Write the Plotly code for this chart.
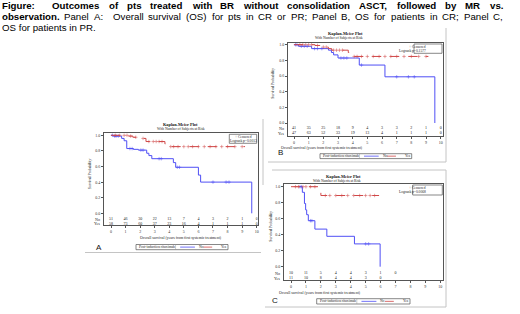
import plotly.graph_objects as go

W, H = 520, 314

# ---------------- data ----------------
years = list(range(11))

# Panel A: CR or PR
A_no_t = [0, 0.15, 0.73, 0.9, 1.08, 1.53, 1.88, 2.45, 2.6, 2.8, 4.28, 4.44, 6.0, 6.15, 9.66]
A_no_s = [1.0, 0.99, 0.96, 0.93, 0.83, 0.82, 0.81, 0.77, 0.74, 0.70, 0.65, 0.59, 0.49, 0.40, 0.0]
A_yes_t = [0, 1.2, 1.5, 2.0, 2.4, 3.7, 4.0, 9.2]
A_yes_s = [1.0, 0.99, 0.975, 0.96, 0.92, 0.89, 0.855, 0.855]
A_no_cens = [0.1, 0.25, 0.35, 0.5, 1.3, 1.45, 2.05, 2.2, 3.3, 3.45, 4.55, 4.7, 7.0, 7.9, 8.1]
A_yes_cens = [0.3, 0.6, 0.9, 1.1, 1.35, 1.7, 2.2, 2.6, 2.9, 3.1, 3.3, 3.5, 4.1, 4.3, 4.6, 5.0,
              5.3, 5.6, 6.0, 6.4, 6.8, 7.2, 7.6, 8.0, 8.5, 9.0]
A_risk_no = [51, 46, 30, 22, 13, 7, 4, 3, 2, 1, 0]
A_risk_yes = [58, 73, 60, 37, 23, 16, 4, 1, 1, 1, 0]
A_p = "Logrank p=0.0013"

# Panel B: CR
B_no_t = [0, 0.3, 1.2, 2.35, 2.55, 2.7, 3.0, 4.45, 6.2, 9.6]
B_no_s = [1.0, 0.98, 0.95, 0.93, 0.90, 0.87, 0.83, 0.74, 0.59, 0.0]
B_yes_t = [0, 1.43, 1.77, 2.34, 2.57, 3.7, 3.93, 9.16]
B_yes_s = [1.0, 0.99, 0.97, 0.95, 0.93, 0.90, 0.85, 0.85]
B_no_cens = [0.1, 0.2, 0.5, 0.7, 0.9, 1.4, 1.6, 1.9, 3.2, 3.4, 3.6, 4.6, 7.0, 7.8, 8.2]
B_yes_cens = [0.4, 0.6, 0.8, 1.0, 1.2, 1.6, 2.0, 2.2, 2.7, 2.9, 3.1, 3.3, 4.1, 4.3, 4.6, 5.0,
              5.4, 5.8, 6.2, 6.6, 7.0, 7.5, 8.0, 8.5, 9.0]
B_risk_no = [41, 35, 25, 18, 9, 4, 3, 3, 2, 1, 0]
B_risk_yes = [47, 63, 52, 33, 19, 13, 4, 1, 1, 1, 0]
B_p = "Logrank p=0.1577"

# Panel C: PR
C_no_t = [0.55, 0.76, 0.9, 0.98, 1.05, 1.16, 1.6, 2.4, 4.25, 5.97]
C_no_s = [1.0, 0.93, 0.79, 0.71, 0.65, 0.575, 0.47, 0.38, 0.285, 0.0]
C_yes_t = [0, 2.0, 5.9]
C_yes_s = [1.0, 0.89, 0.89]
C_no_cens = [0.6, 0.7, 1.3, 1.4, 5.0, 5.2]
C_yes_cens = [0.3, 0.5, 0.8, 1.0, 1.3, 1.6, 2.3, 2.6, 3.0, 3.4, 3.8, 4.2, 4.6, 5.0, 5.3, 5.6]
C_risk_no = [10, 11, 5, 4, 4, 3, 1, 0]
C_risk_yes = [11, 10, 8, 4, 4, 3, 0]
C_p = "Logrank p=0.0068"

# caption words (text, bold, spaces before)
cap_line1 = [("Figure:", 1, 0), ("Outcomes", 1, 2), ("of", 1, 1), ("pts", 1, 1), ("treated", 1, 1),
             ("with", 1, 1), ("BR", 1, 1), ("without", 1, 1), ("consolidation", 1, 1), ("ASCT,", 1, 1),
             ("followed", 1, 1), ("by", 1, 1), ("MR", 1, 1), ("vs.", 1, 1)]
cap_line2 = [("observation.", 1, 0), ("Panel", 0, 1), ("A:", 0, 1), ("Overall", 0, 2), ("survival", 0, 1),
             ("(OS)", 0, 1), ("for", 0, 1), ("pts", 0, 1), ("in", 0, 1), ("CR", 0, 1), ("or", 0, 1),
             ("PR;", 0, 1), ("Panel", 0, 1), ("B,", 0, 1), ("OS", 0, 1), ("for", 0, 1), ("patients", 0, 1),
             ("in", 0, 1), ("CR;", 0, 1), ("Panel", 0, 1), ("C,", 0, 1)]
cap_line3 = "OS for patients in PR."

# ---------------- styling ----------------
BLUE = "#4f4ff5"
RED = "#d04848"
FRAME = "#555555"
GRAY = "#c4c4c4"
SERIF = "Liberation Serif"
SANS = "Liberation Sans"
CAP = 9.7

# Arial/Liberation Sans advance widths (per 1000 em) for justification
REG = dict(zip(" (),.:;", [278, 333, 333, 278, 278, 278, 278]))
REG.update(dict(zip("ABCDEFGHIMNOPRST", [667, 667, 722, 722, 667, 611, 778, 722, 278, 833, 722, 778, 667, 722, 667, 611])))
REG.update(dict(zip("abcdefghijklmnopqrstuvwxyz",
                    [556, 556, 500, 556, 556, 278, 556, 556, 222, 222, 500, 222, 833, 556, 556, 556, 556, 333, 500,
                     278, 556, 500, 722, 500, 500, 500])))
BLD = dict(zip(" (),.:;", [278, 333, 333, 278, 278, 333, 333]))
BLD.update(dict(zip("ABCDEFGHIMNOPRST", [722, 722, 722, 722, 667, 611, 778, 722, 278, 833, 722, 778, 667, 722, 667, 611])))
BLD.update(dict(zip("abcdefghijklmnopqrstuvwxyz",
                    [556, 611, 556, 611, 556, 333, 611, 611, 278, 278, 556, 278, 889, 611, 611, 611, 611, 389, 556,
                     333, 611, 556, 778, 556, 556, 500])))


def text_w(s, bold):
    tab = BLD if bold else REG
    return sum(tab.get(c, 556) for c in s) / 1000.0 * CAP


def step_at(ts, ss, t):
    v = ss[0]
    for ti, si in zip(ts, ss):
        if ti <= t:
            v = si
    return v


def px(x):
    return x / W


def py(y):
    return 1 - y / H


fig = go.Figure()
annotations = []
shapes = []

panels = [
    dict(key="A", ax="", frame=(104, 133, 257.7, 225), x0=111, pxyr=14.57, y1=135.3, y0=213.3,
         no=(A_no_t, A_no_s, A_no_cens), yes=(A_yes_t, A_yes_s, A_yes_cens),
         rno=A_risk_no, ryes=A_risk_yes, p=A_p,
         rowy=(219.0, 223.7), title_y=124.3, sub_y=129.3, xt_y=238, yt_x=90,
         lab=("A", 99, 247), leg=(136, 228, 244.5, 249.7), cbox=(229.3, 256.7, 134.3, 143.3)),
    dict(key="B", ax="2", frame=(288, 42.7, 442.7, 135.7), x0=294, pxyr=14.67, y1=44.7, y0=123,
         no=(B_no_t, B_no_s, B_no_cens), yes=(B_yes_t, B_yes_s, B_yes_cens),
         rno=B_risk_no, ryes=B_risk_yes, p=B_p,
         rowy=(128.5, 133.2), title_y=33.5, sub_y=38.3, xt_y=147.7, yt_x=273,
         lab=("B", 280, 152.5), leg=(320, 411.7, 153.7, 158.6), cbox=(414, 442, 44, 53.3)),
    dict(key="C", ax="3", frame=(284, 184.3, 442.7, 280), x0=291, pxyr=14.93, y1=186.7, y0=266.7,
         no=(C_no_t, C_no_s, C_no_cens), yes=(C_yes_t, C_yes_s, C_yes_cens),
         rno=C_risk_no, ryes=C_risk_yes, p=C_p,
         rowy=(273.3, 278.0), title_y=176, sub_y=180.5, xt_y=292.7, yt_x=271,
         lab=("C", 275, 300.7), leg=(316.7, 410, 298.7, 304), cbox=(412.7, 442.3, 185, 195)),
]

layout_axes = {}
for P in panels:
    L, T, R, B = P["frame"]
    unit = P["y0"] - P["y1"]
    xr = [(L - P["x0"]) / P["pxyr"], (R - P["x0"]) / P["pxyr"]]
    yr = [(P["y0"] - B) / unit, (P["y0"] - T) / unit]
    xa = "x" + P["ax"]
    ya = "y" + P["ax"]
    layout_axes["xaxis" + P["ax"]] = dict(
        domain=[px(L), px(R)], range=xr, anchor=ya, showgrid=False, zeroline=False,
        showline=True, mirror=True, linecolor=FRAME, linewidth=1,
        tickmode="array", tickvals=years, ticktext=[str(v) for v in years],
        ticks="outside", ticklen=2, tickwidth=0.6, tickcolor=FRAME,
        tickfont=dict(family=SERIF, size=4, color="#333"))
    layout_axes["yaxis" + P["ax"]] = dict(
        domain=[py(B), py(T)], range=yr, anchor=xa, showgrid=False, zeroline=False,
        showline=True, mirror=True, linecolor=FRAME, linewidth=1,
        tickmode="array", tickvals=[0, 0.2, 0.4, 0.6, 0.8, 1.0],
        ticktext=["0.0", "0.2", "0.4", "0.6", "0.8", "1.0"],
        ticks="outside", ticklen=2, tickwidth=0.6, tickcolor=FRAME,
        tickfont=dict(family=SERIF, size=4, color="#333"))

    for (ts, ss, cens), col, dash in [(P["no"], BLUE, "solid"), (P["yes"], RED, "dash")]:
        fig.add_trace(go.Scatter(x=ts, y=ss, mode="lines", line=dict(color=col, width=1, dash=dash, shape="hv"),
                                 xaxis=xa, yaxis=ya, showlegend=False, hoverinfo="skip"))
        fig.add_trace(go.Scatter(x=cens, y=[step_at(ts, ss, c) for c in cens], mode="markers",
                                 marker=dict(symbol="cross-thin", size=2.5, line=dict(color=col, width=0.5)),
                                 xaxis=xa, yaxis=ya, showlegend=False, hoverinfo="skip"))

    # at-risk table
    ry_no = (P["y0"] - P["rowy"][0]) / unit
    ry_yes = (P["y0"] - P["rowy"][1]) / unit
    fig.add_trace(go.Scatter(x=years[:len(P["rno"])], y=[ry_no] * len(P["rno"]), mode="text",
                             text=[str(v) for v in P["rno"]],
                             textfont=dict(family=SERIF, size=4, color="#222"),
                             xaxis=xa, yaxis=ya, showlegend=False, hoverinfo="skip"))
    fig.add_trace(go.Scatter(x=years[:len(P["ryes"])], y=[ry_yes] * len(P["ryes"]), mode="text",
                             text=[str(v) for v in P["ryes"]],
                             textfont=dict(family=SERIF, size=4, color="#222"),
                             xaxis=xa, yaxis=ya, showlegend=False, hoverinfo="skip"))
    for lbl, yy in [("No", P["rowy"][0]), ("Yes", P["rowy"][1])]:
        annotations.append(dict(xref="paper", yref="paper", x=px(L - 2), y=py(yy), text=lbl,
                                showarrow=False, xanchor="right", yanchor="middle",
                                font=dict(family=SERIF, size=4, color="#222")))

    cx = (L + R) / 2
    annotations.append(dict(xref="paper", yref="paper", x=px(cx), y=py(P["title_y"]),
                            text="<b>Kaplan-Meier Plot</b>", showarrow=False, yanchor="middle",
                            font=dict(family=SERIF, size=4.3, color="#111")))
    annotations.append(dict(xref="paper", yref="paper", x=px(cx), y=py(P["sub_y"]),
                            text="With Number of Subjects at Risk", showarrow=False, yanchor="middle",
                            font=dict(family=SERIF, size=3.6, color="#222")))
    annotations.append(dict(xref="paper", yref="paper", x=px(cx), y=py(P["xt_y"]),
                            text="Overall survival (years from first systemic treatment)", showarrow=False,
                            yanchor="middle", font=dict(family=SERIF, size=3.8, color="#222")))
    annotations.append(dict(xref="paper", yref="paper", x=px(P["yt_x"]), y=py((P["y0"] + P["y1"]) / 2),
                            text="Survival Probability", showarrow=False, textangle=-90,
                            xanchor="center", yanchor="middle",
                            font=dict(family=SERIF, size=3.8, color="#222")))
    lt, lx, ly = P["lab"]
    annotations.append(dict(xref="paper", yref="paper", x=px(lx), y=py(ly), text=lt, showarrow=False,
                            xanchor="center", yanchor="middle", font=dict(family=SANS, size=8, color="#111")))

    # censored / logrank box
    bl, br, bt, bb = P["cbox"]
    shapes.append(dict(type="rect", xref="paper", yref="paper", x0=px(bl), x1=px(br), y0=py(bb), y1=py(bt),
                       line=dict(color=FRAME, width=0.7), fillcolor="white"))
    annotations.append(dict(xref="paper", yref="paper", x=px((bl + br) / 2), y=py(bt + (bb - bt) * 0.28),
                            text="+ Censored", showarrow=False, yanchor="middle",
                            font=dict(family=SERIF, size=3.6, color="#222")))
    annotations.append(dict(xref="paper", yref="paper", x=px((bl + br) / 2), y=py(bt + (bb - bt) * 0.74),
                            text=P["p"], showarrow=False, yanchor="middle",
                            font=dict(family=SERIF, size=3.6, color="#222")))

    # bottom legend
    gl, gr, gt, gb = P["leg"]
    wdt = gr - gl
    ym = (gt + gb) / 2
    shapes.append(dict(type="rect", xref="paper", yref="paper", x0=px(gl), x1=px(gr), y0=py(gb), y1=py(gt),
                       line=dict(color=FRAME, width=0.7), fillcolor="white"))
    shapes.append(dict(type="line", xref="paper", yref="paper", x0=px(gl + 0.43 * wdt), x1=px(gl + 0.43 * wdt),
                       y0=py(gb), y1=py(gt), line=dict(color="#999", width=0.5)))
    annotations.append(dict(xref="paper", yref="paper", x=px(gl + 0.01 * wdt), y=py(ym),
                            text="Post-induction rituximab", showarrow=False, xanchor="left", yanchor="middle",
                            font=dict(family=SERIF, size=3.6, color="#222")))
    shapes.append(dict(type="line", xref="paper", yref="paper", x0=px(gl + 0.48 * wdt), x1=px(gl + 0.64 * wdt),
                       y0=py(ym), y1=py(ym), line=dict(color=BLUE, width=0.8)))
    annotations.append(dict(xref="paper", yref="paper", x=px(gl + 0.66 * wdt), y=py(ym), text="No",
                            showarrow=False, xanchor="left", yanchor="middle",
                            font=dict(family=SERIF, size=3.6, color="#222")))
    shapes.append(dict(type="line", xref="paper", yref="paper", x0=px(gl + 0.73 * wdt), x1=px(gl + 0.88 * wdt),
                       y0=py(ym), y1=py(ym), line=dict(color=RED, width=0.8, dash="dash")))
    annotations.append(dict(xref="paper", yref="paper", x=px(gl + 0.90 * wdt), y=py(ym), text="Yes",
                            showarrow=False, xanchor="left", yanchor="middle",
                            font=dict(family=SERIF, size=3.6, color="#222")))

# gray borders of pasted images
for (x0, y0, x1, y1) in [(85, 252.5, 261, 252.5), (263, 119, 263, 185), (446, 28, 446, 162),
                         (268, 162, 446, 162), (272, 170, 446, 170), (446, 170, 446, 307),
                         (265, 307, 446, 307)]:
    shapes.append(dict(type="line", xref="paper", yref="paper", x0=px(x0), x1=px(x1), y0=py(y0), y1=py(y1),
                       line=dict(color=GRAY, width=1)))

# caption: justified lines laid out word by word
X_START, X_END = 0.5, 502.0


def justify(words, yy):
    widths = [text_w(w, b) for w, b, _ in words]
    weights = [sp for _, _, sp in words]
    extra = (X_END - X_START - sum(widths)) / sum(weights)
    x = X_START
    for (w, b, sp), wd in zip(words, widths):
        x += sp * extra
        annotations.append(dict(xref="paper", yref="paper", x=px(x - 1), y=py(yy),
                                text=("<b>%s</b>" % w) if b else w, showarrow=False,
                                xanchor="left", yanchor="middle",
                                font=dict(family=SANS, size=CAP, color="#000")))
        x += wd


justify(cap_line1, 5.7)
justify(cap_line2, 16.7)
annotations.append(dict(xref="paper", yref="paper", x=px(X_START - 1), y=py(27.7), text=cap_line3,
                        showarrow=False, xanchor="left", yanchor="middle",
                        font=dict(family=SANS, size=CAP, color="#000")))

fig.update_layout(width=W, height=H, margin=dict(l=0, r=0, t=0, b=0), plot_bgcolor="white",
                  paper_bgcolor="white", showlegend=False, annotations=annotations, shapes=shapes,
                  **layout_axes)

fig.write_html("out.html", config={"displayModeBar": False},
               post_script="document.body.style.margin='0';document.body.style.padding='0';")
